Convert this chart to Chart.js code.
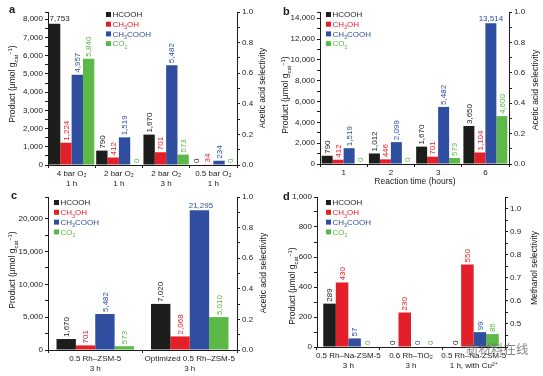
<!DOCTYPE html>
<html>
<head>
<meta charset="utf-8">
<style>
  body { margin: 0; background: #fff; }
  #wrap { position: relative; width: 543px; height: 376px; overflow: hidden; }
  canvas { position: absolute; }
  #wm { position: absolute; left: 466px; top: 342px; font: 12.5px/14px "Noto Sans CJK SC", sans-serif; color: rgba(105,105,105,0.8); white-space: nowrap; }
</style>
</head>
<body>
<div id="wrap">
  <canvas id="ca" width="272" height="190" style="left:0;top:0"></canvas>
  <canvas id="cb" width="271" height="190" style="left:272px;top:0"></canvas>
  <canvas id="cc" width="272" height="186" style="left:0;top:190px"></canvas>
  <canvas id="cd" width="271" height="186" style="left:272px;top:190px"></canvas>
  <span id="wm">新材料在线</span>
</div>
<script src="https://cdn.jsdelivr.net/npm/chart.js"></script>
<script>
// series names shared by all panels
const seriesNames = ['HCOOH', 'CH₃OH', 'CH₃COOH', 'CO₂'];

// panel a
const aCats = [['4 bar O₂', '1 h'], ['2 bar O₂', '1 h'], ['2 bar O₂', '3 h'], ['0.5 bar O₂', '1 h']];
const aHCOOH = [7753, 790, 1670, 0];
const aCH3OH = [1224, 412, 701, 34];
const aCH3COOH = [4957, 1519, 5482, 234];
const aCO2 = [5840, 0, 573, 0];
const aSel = [0.25, 0.52, 0.65, 0.88];

// panel b
const bCats = ['1', '2', '3', '6'];
const bHCOOH = [790, 1012, 1670, 3650];
const bCH3OH = [412, 446, 701, 1104];
const bCH3COOH = [1519, 2099, 5482, 13514];
const bCO2 = [0, 0, 573, 4600];
const bSel = [0.56, 0.60, 0.66, 0.60];

// panel c
const cCats = [['0.5 Rh–ZSM-5', '3 h'], ['Optimized 0.5 Rh–ZSM-5', '3 h']];
const cHCOOH = [1670, 7020];
const cCH3OH = [701, 2068];
const cCH3COOH = [5482, 21295];
const cCO2 = [573, 5010];
const cSel = [0.65, 0.60];

// panel d
const dCats = [['0.5 Rh–Na-ZSM-5', '3 h'], ['0.6 Rh–TiO₂', '3 h'], ['0.5 Rh–Na-ZSM-5', '1 h, with Cu²⁺']];
const dHCOOH = [289, 0, 0];
const dCH3OH = [430, 230, 550];
const dCH3COOH = [57, 0, 99];
const dCO2 = [0, 0, 86];
const dSel = [0.55, 1.0, 0.75];

const FONT = '"Liberation Sans", Arial, Helvetica, sans-serif';
const INK = '#1a1a1a';
const barColors = ['#1d1d1b', '#e3202a', '#2f4ea0', '#5cb947'];

const SUBS = '₀₁₂₃₄₅₆₇₈₉', SUPS = '⁰¹²³⁴⁵⁶⁷⁸⁹⁺⁻', SUPN = '0123456789+−';
function toParts(str) {
  const parts = [];
  for (const ch of str) {
    let k = 'n', t = ch;
    const i = SUBS.indexOf(ch), j = SUPS.indexOf(ch);
    if (i >= 0) { k = 'sub'; t = String(i); }
    else if (j >= 0) { k = 'sup'; t = SUPN[j]; }
    const last = parts[parts.length - 1];
    if (last && last.k === k) last.t += t; else parts.push({ k, t });
  }
  return parts;
}

// text with sub/superscripts; y is the visual middle of the caps
function drawRich(ctx, parts, x, y, size, color, angle, align) {
  ctx.save();
  ctx.translate(x, y);
  ctx.rotate(angle || 0);
  ctx.fillStyle = color;
  ctx.textAlign = 'left';
  ctx.textBaseline = 'alphabetic';
  let w = 0;
  for (const p of parts) {
    ctx.font = (p.k === 'n' ? size : size * 0.68) + 'px ' + FONT;
    p.w = ctx.measureText(p.t).width;
    w += p.w;
  }
  let cx = align === 'left' ? 0 : -w / 2;
  for (const p of parts) {
    ctx.font = (p.k === 'n' ? size : size * 0.68) + 'px ' + FONT;
    const dy = p.k === 'sub' ? size * 0.3 : p.k === 'sup' ? -size * 0.4 : 0;
    ctx.fillText(p.t, cx, size * 0.36 + dy);
    cx += p.w;
  }
  ctx.restore();
}

const productTitle = [{ k: 'n', t: 'Product (μmol g' }, { k: 'sub', t: 'cat' }, { k: 'sup', t: '−1' }, { k: 'n', t: ')' }];

function decor(cfg) {
  return {
    id: 'decor',
    afterDraw(chart) {
      const ctx = chart.ctx;
      // value labels above bars; a few sit flat instead of upright
      cfg.series.forEach((vals, si) => {
        const meta = chart.getDatasetMeta(si + 1);
        meta.data.forEach((bar, j) => {
          const txt = vals[j].toLocaleString('en-US');
          const flat = cfg.flat.find(f => f[0] === si && f[1] === j);
          ctx.save();
          ctx.fillStyle = barColors[si];
          ctx.font = '8px ' + FONT;
          if (flat) {
            ctx.textAlign = 'center';
            ctx.textBaseline = 'bottom';
            ctx.fillText(txt, bar.x + flat[2], bar.y - 0.5);
          } else {
            ctx.translate(bar.x + 0.5, bar.y - 2);
            ctx.rotate(-Math.PI / 2);
            ctx.textAlign = 'left';
            ctx.textBaseline = 'middle';
            ctx.fillText(txt, 0, 0);
          }
          ctx.restore();
        });
      });
      // legend inside the plot
      seriesNames.forEach((name, i) => {
        const ry = cfg.legend.y + i * cfg.legend.dy;
        ctx.fillStyle = barColors[i];
        ctx.fillRect(cfg.legend.x, ry - 2.5, 5, 5);
        drawRich(ctx, toParts(name), cfg.legend.x + 6.5, ry, 8, barColors[i], 0, 'left');
      });
      // axis titles
      drawRich(ctx, productTitle, cfg.ltitle[0], cfg.ltitle[1], 8.5, INK, -Math.PI / 2);
      drawRich(ctx, toParts(cfg.rtext), cfg.rtitle[0], cfg.rtitle[1], 8.5, INK, -Math.PI / 2);
      if (cfg.xtext) drawRich(ctx, toParts(cfg.xtext), cfg.xtitle[0], cfg.xtitle[1], 8.5, INK, 0);
      // panel letter
      ctx.fillStyle = INK;
      ctx.font = 'bold 11px ' + FONT;
      ctx.textAlign = 'left';
      ctx.textBaseline = 'alphabetic';
      ctx.fillText(cfg.letter, cfg.letterPos[0], cfg.letterPos[1]);
    }
  };
}

function panel(id, cfg) {
  const el = document.getElementById(id);
  const W = el.width, H = el.height, A = cfg.area;
  const datasets = [{
    type: 'line', data: cfg.sel, yAxisID: 'r', order: 0,
    borderColor: INK, borderWidth: 1.2, pointStyle: 'rect', pointRadius: 3,
    pointBackgroundColor: INK, pointBorderWidth: 0
  }];
  cfg.series.forEach((d, i) => datasets.push({
    type: 'bar', label: seriesNames[i], data: d, yAxisID: 'y', order: 1,
    backgroundColor: barColors[i], borderWidth: 0,
    barPercentage: 1, categoryPercentage: cfg.catPct
  }));
  const tickFont = { family: FONT, size: 8, lineHeight: 1.25 };
  new Chart(el, {
    data: { labels: cfg.cats, datasets },
    options: {
      responsive: false, animation: false, devicePixelRatio: 1,
      layout: { padding: { top: A.top, left: 0, right: 0, bottom: 0 } },
      plugins: { legend: { display: false }, tooltip: { enabled: false } },
      scales: {
        x: {
          offset: true,
          grid: { offset: true, drawOnChartArea: false, tickLength: 3, color: INK },
          border: { color: INK, width: 1 },
          ticks: { autoSkip: false, maxRotation: 0, minRotation: 0, padding: 1, color: INK, font: tickFont },
          afterFit: s => { s.height = H - A.bottom; }
        },
        // suggestedMax + bounds 'data' keeps the step exact (a hard max would respace the ticks)
        y: {
          position: 'left', min: 0, suggestedMax: cfg.yMax, bounds: 'data',
          grid: { drawOnChartArea: false, tickLength: 3, color: INK },
          border: { color: INK, width: 1 },
          ticks: {
            autoSkip: false, stepSize: cfg.yMinor, padding: 2, color: INK, font: tickFont,
            callback: v => v % cfg.yMajor === 0 ? v.toLocaleString('en-US') : ''
          },
          afterFit: s => { s.width = A.left; }
        },
        r: {
          position: 'right', min: cfg.rMin, max: cfg.rMax,
          grid: { drawOnChartArea: false, tickLength: 3, color: INK },
          border: { color: INK, width: 1 },
          ticks: {
            autoSkip: false, stepSize: cfg.rMinor, includeBounds: false, padding: 2, color: INK, font: tickFont,
            callback: v => cfg.rLabel(v) ? v.toFixed(1) : ''
          },
          afterFit: s => { s.width = W - A.right; }
        }
      }
    },
    plugins: [decor(cfg)]
  });
}

const evenTenth = v => Math.round(v * 10) % 2 === 0 && Math.abs(v * 10 - Math.round(v * 10)) < 1e-6;

panel('ca', {
  cats: aCats, series: [aHCOOH, aCH3OH, aCH3COOH, aCO2], sel: aSel,
  area: { left: 48, right: 237, top: 12, bottom: 165 }, catPct: 0.96,
  yMax: 8400, yMinor: 500, yMajor: 1000,
  rMin: 0, rMax: 1, rMinor: 0.1, rLabel: evenTenth,
  flat: [[0, 0, 5]],
  legend: { x: 106, y: 14.5, dy: 9.7 },
  ltitle: [12, 84], rtitle: [262, 88], rtext: 'Acetic acid selectivity',
  letter: 'a', letterPos: [9, 12.5]
});

panel('cb', {
  cats: bCats, series: [bHCOOH, bCH3OH, bCH3COOH, bCO2], sel: bSel,
  area: { left: 48, right: 237, top: 12, bottom: 164 }, catPct: 0.93,
  yMax: 14600, yMinor: 1000, yMajor: 2000,
  rMin: 0, rMax: 1, rMinor: 0.1, rLabel: evenTenth,
  flat: [[2, 3, 0]],
  legend: { x: 54, y: 14.5, dy: 9.7 },
  ltitle: [13, 95], rtitle: [263, 90], rtext: 'Acetic acid selectivity',
  xtext: 'Reaction time (hours)', xtitle: [143, 181],
  letter: 'b', letterPos: [11, 15]
});

panel('cc', {
  cats: cCats, series: [cHCOOH, cCH3OH, cCH3COOH, cCO2], sel: cSel,
  area: { left: 48, right: 237, top: 5, bottom: 160 }, catPct: 0.82,
  yMax: 23300, yMinor: 2500, yMajor: 5000,
  rMin: 0, rMax: 1, rMinor: 0.1, rLabel: evenTenth,
  flat: [[2, 1, 1.5]],
  legend: { x: 54, y: 12.5, dy: 9.8 },
  ltitle: [12, 80], rtitle: [263, 83], rtext: 'Acetic acid selectivity',
  letter: 'c', letterPos: [11, 8.5]
});

panel('cd', {
  cats: dCats, series: [dHCOOH, dCH3OH, dCH3COOH, dCO2], sel: dSel,
  area: { left: 45, right: 233, top: 7, bottom: 157 }, catPct: 0.8,
  yMax: 1000, yMinor: 100, yMajor: 200,
  rMin: 0.4, rMax: 1.05, rMinor: 0.05,
  rLabel: v => v > 0.45 && Math.abs(v * 10 - Math.round(v * 10)) < 1e-6,
  flat: [],
  legend: { x: 54, y: 12.5, dy: 9.8 },
  ltitle: [20, 96], rtitle: [262, 78], rtext: 'Methanol selectivity',
  letter: 'd', letterPos: [11, 10]
});
</script>
</body>
</html>
